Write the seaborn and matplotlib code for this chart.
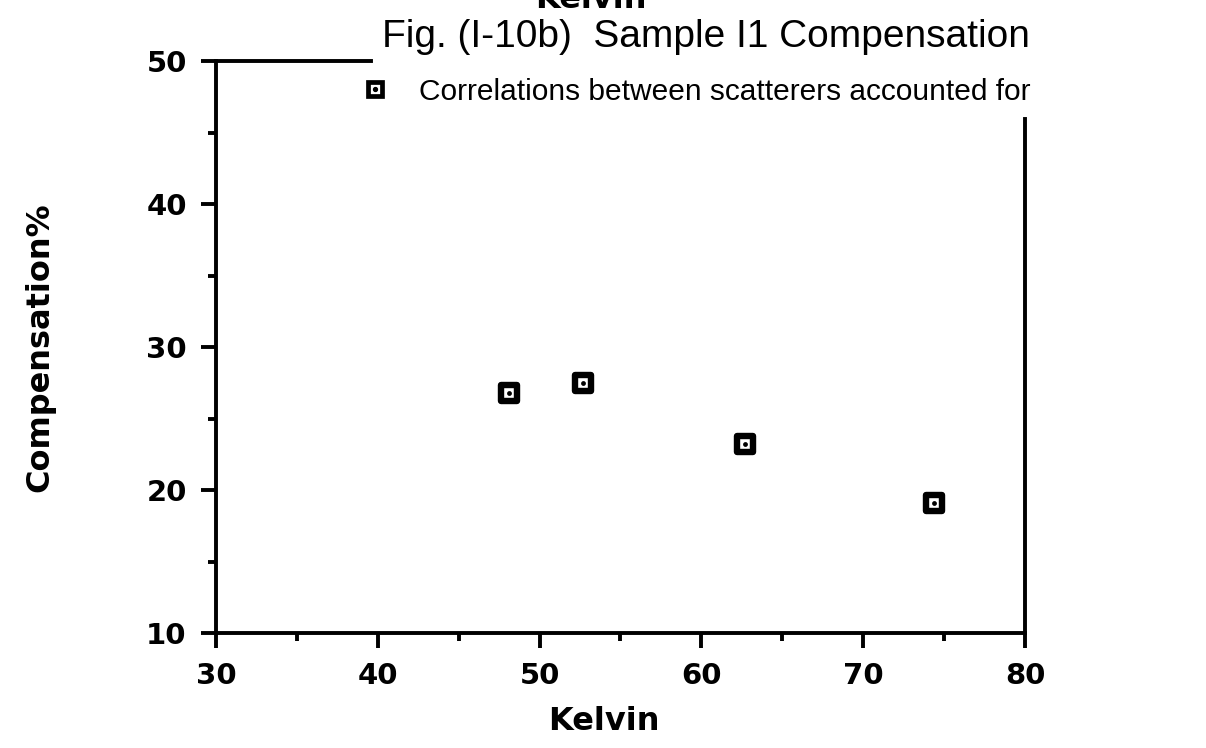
import matplotlib
matplotlib.use("Agg")
import matplotlib.pyplot as plt
import seaborn as sns
import pandas as pd
from matplotlib.ticker import MultipleLocator
from matplotlib.legend_handler import HandlerTuple

kelvin = [48.1, 52.7, 62.7, 74.4]
compensation = [26.8, 27.5, 23.2, 19.1]
series_label = "Correlations between scatterers accounted for"
title_text = "Fig. (I-10b)  Sample I1 Compensation"
x_label = "Kelvin"
y_label = "Compensation%"
x_ticks = [30, 40, 50, 60, 70, 80]
y_ticks = [10, 20, 30, 40, 50]

df = pd.DataFrame({"Kelvin": kelvin, "Compensation": compensation})

sns.set_theme(style="white")
plt.rcParams['font.family'] = ['Liberation Sans', 'DejaVu Sans']
plt.rcParams['text.color'] = 'black'
plt.rcParams['axes.labelcolor'] = 'black'
plt.rcParams['xtick.color'] = 'black'
plt.rcParams['ytick.color'] = 'black'

fig = plt.figure(figsize=(12.06, 7.48), dpi=100)
ax = fig.add_axes([0.179, 0.1537, 0.671, 0.7643])

sns.scatterplot(data=df, x="Kelvin", y="Compensation", ax=ax, marker="s",
                s=135, facecolor="white", edgecolor="black", linewidth=4.6,
                zorder=3, legend=False)
sns.scatterplot(data=df, x="Kelvin", y="Compensation", ax=ax, marker="o",
                s=12, color="black", edgecolor="black", linewidth=0,
                zorder=4, legend=False)

ax.set_xlim(30, 80)
ax.set_ylim(10, 50)
ax.set_xticks(x_ticks)
ax.set_yticks(y_ticks)
ax.xaxis.set_minor_locator(MultipleLocator(5))
ax.yaxis.set_minor_locator(MultipleLocator(5))
ax.tick_params(axis="both", which="major", direction="out", length=11,
               width=2.8, color="black", pad=10)
ax.tick_params(axis="both", which="minor", direction="out", length=6,
               width=2.8, color="black")
ax.tick_params(bottom=True, left=True, top=False, right=False,
               which="both")
for lab in ax.get_xticklabels() + ax.get_yticklabels():
    lab.set_family(['DejaVu Sans'])
    lab.set_fontweight('bold')
    lab.set_fontsize(21)
    lab.set_color('black')

for side in ["left", "bottom", "top", "right"]:
    ax.spines[side].set_visible(True)
    ax.spines[side].set_color("black")
    ax.spines[side].set_linewidth(2.8)
ax.spines["top"].set_bounds(30, 39.6)
ax.spines["right"].set_bounds(10, 46.0)

ax.set_xlabel(x_label, fontsize=23, fontweight="bold", family=['DejaVu Sans'])
ax.xaxis.set_label_coords(0.48, -0.128)
ax.set_ylabel(y_label, fontsize=23, fontweight="bold", family=['DejaVu Sans'])
ax.yaxis.set_label_coords(-0.198, 0.5)

fig.text(0.585, 0.951, title_text, fontsize=28, ha="center", va="center")
fig.text(0.49, 1.0, x_label, fontsize=23, fontweight="bold",
         family=['DejaVu Sans'], ha="center", va="center")

h1 = plt.Line2D([], [], marker="s", linestyle="none", markersize=10.5,
                markerfacecolor="white", markeredgecolor="black",
                markeredgewidth=3.4)
h2 = plt.Line2D([], [], marker="o", linestyle="none", markersize=2.8,
                color="black")
leg = ax.legend([(h1, h2)], [series_label],
                handler_map={tuple: HandlerTuple(ndivide=1, pad=0)},
                loc="center left", bbox_to_anchor=(0.163, 0.947),
                frameon=False, fontsize=21.5, handlelength=1.0,
                handletextpad=1.0, borderaxespad=0)

fig.savefig("out.png", dpi=100, facecolor="white")
